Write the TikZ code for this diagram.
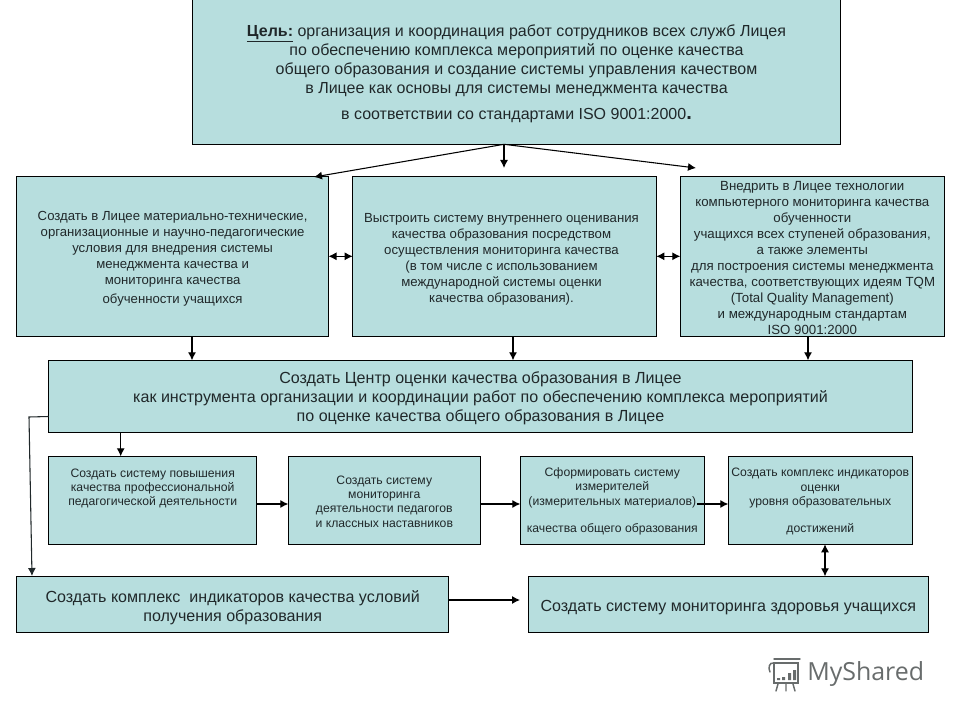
\documentclass[tikz,border=0pt]{standalone}
\usepackage{fontspec}
\setmainfont{Liberation Sans}
\newfontfamily\logofont{Open Sans}
\usetikzlibrary{arrows.meta}
\definecolor{boxfill}{RGB}{183,222,222}
\definecolor{inkc}{RGB}{32,40,42}
\definecolor{logoc}{RGB}{104,108,108}
\newcommand{\padb}[1]{\rule[-#1]{0pt}{#1}}
\newcommand{\padt}[1]{\rule{0pt}{#1}}
\tikzset{
  box/.style={draw=black,line width=.9pt,fill=boxfill,text=inkc,inner sep=0pt,outer sep=0pt,align=center},
  sz/.style 2 args={minimum width=#1*.75pt,minimum height=#2*.75pt},
  txt/.style 2 args={font=\fontsize{#1}{#2}\selectfont},
  arr/.style={line width=.8pt,-{Latex[length=6pt,width=6pt]}},
  biarr/.style={line width=.8pt,{Latex[length=6pt,width=6pt]}-{Latex[length=6pt,width=6pt]}},
  logoline/.style={draw=logoc,line width=1.1pt,line cap=round}
}
\begin{document}
\begin{tikzpicture}[x=.75pt,y=-.75pt]
\useasboundingbox (0,0) rectangle (960,720);
\node[box,sz={647.6}{144.6},txt={12}{14.3}] (top) at (516.5,72) {\padt{11pt}\textbf{\underline{Цель:}} организация и координация работ сотрудников всех служб Лицея\\
по обеспечению комплекса мероприятий по оценке качества\\
общего образования и создание системы управления качеством\\
в Лицее как основы для системы менеджмента качества\\[5pt]
в соответствии со стандартами ISO 9001:2000{\fontsize{15}{14}\selectfont\textbf{.}}};
\node[box,sz={311.8}{160},txt={9.87}{12}] (a) at (172.6,256.3) {\padt{10.2pt}Создать в Лицее материально-технические,\\
организационные и научно-педагогические\\
условия для внедрения системы\\
менеджмента качества и\\
мониторинга качества\\[2pt]
обученности учащихся};
\node[box,sz={303.6}{160},txt={9.9}{12}] (b) at (504.5,256.3) {\begin{tabular}{@{}c@{}}\padt{12.2pt}Выстроить систему внутреннего оценивания\\
качества образования посредством\\
осуществления мониторинга качества\\
(в том числе с использованием\\
международной системы оценки\\
качества образования).\end{tabular}\hspace{4.5pt}};
\node[box,sz={264}{160},txt={9.95}{12}] (c) at (812.3,256.3) {\padt{8.8pt}Внедрить в Лицее технологии\\
компьютерного мониторинга качества\\
обученности\\
учащихся всех ступеней образования,\\
а также элементы\\
для построения системы менеджмента\\
качества, соответствующих идеям TQM\\
(Total Quality Management)\\
и международным стандартам\\
ISO 9001:2000};
\node[box,sz={863.6}{72},txt={12.05}{14.3}] (d) at (480.5,396.3) {\padt{11.8pt}Создать Центр оценки качества образования в Лицее\\
как инструмента организации и координации работ по обеспечению комплекса мероприятий\\
по оценке качества общего образования в Лицее};
\node[box,sz={208}{88},txt={9.15}{10.8}] (e) at (152.7,500.3) {Создать систему повышения\\
качества профессиональной\\
педагогической деятельности\padb{19.5pt}};
\node[box,sz={192}{88},txt={9.15}{10.8}] (f) at (384.3,500.3) {\padt{8.2pt}Создать систему\\
мониторинга\\
деятельности педагогов\\
и классных наставников};
\node[box,sz={184}{88},txt={9.15}{10.8}] (g) at (612.3,500.3) {\padt{8.2pt}Сформировать систему\\
измерителей\\
(измерительных материалов)\\[9.5pt]
качества общего образования};
\node[box,sz={184}{88},txt={9.15}{10.8}] (h) at (820.3,500.3) {\padt{8.2pt}Создать комплекс индикаторов\\
оценки\\
уровня образовательных\\[9.5pt]
достижений};
\node[box,sz={432}{56},txt={12.05}{14.3}] (i) at (232.7,604.3) {\padt{14pt}Создать комплекс\ \ индикаторов качества условий\\
получения образования};
\node[box,sz={400}{56},txt={12.05}{14.3}] (j) at (728.3,604.3) {\padt{13.3pt}Создать систему мониторинга здоровья учащихся};
\coordinate (hub) at (504,144.3);
\coordinate (ta) at (314,177);
\coordinate (tb) at (504,168);
\coordinate (tc) at (696,168);
\coordinate (x1) at (192,0);
\coordinate (x2) at (513,0);
\coordinate (x3) at (808,0);
\coordinate (x4) at (120.7,0);
\coordinate (x5) at (825,0);
\coordinate (y1) at (0,504);
\coordinate (gs) at (697,504);
\coordinate (y2) at (0,600);
\coordinate (js) at (520,600);
\coordinate (ds) at (48.7,416.5);
\coordinate (bend) at (29,417);
\coordinate (ie) at (32,576);
\draw[arr] (hub) -- (ta);
\draw[arr] (hub) -- (tb);
\draw[arr] (hub) -- (tc);
\draw[biarr] (a.east) -- (b.west);
\draw[biarr] (b.east) -- (c.west);
\draw[arr] (a.south -| x1) -- (d.north -| x1);
\draw[arr] (b.south -| x2) -- (d.north -| x2);
\draw[arr] (c.south -| x3) -- (d.north -| x3);
\draw[arr] (d.south -| x4) -- (e.north -| x4);
\draw[arr] (e.east |- y1) -- (f.west |- y1);
\draw[arr] (f.east |- y1) -- (g.west |- y1);
\draw[arr] (gs) -- (h.west |- y1);
\draw[arr] (i.east |- y2) -- (js);
\draw[biarr] (h.south -| x5) -- (j.north -| x5);
\draw[arr,draw=inkc] (ds) -- (bend) -- (ie);
% watermark
\draw[logoline] (774,663) -- (798,663) -- (798,683) -- (774,683) -- cycle;
\draw[logoline] (774,663) .. controls (769,662) and (768,668) .. (770,672);
\draw[logoline] (774,659) -- (800,659);
\fill[logoc] (782,677) rectangle (785,680) (788,673) rectangle (791,680) (793,670) rectangle (796,680) (777,678) rectangle (780,680);
\draw[logoline] (778,684) -- (776,691) (786,684) -- (786,691) (793,684) -- (795,691);
\node[inner sep=0pt,text=logoc,font=\logofont\fontsize{18.7}{20}\selectfont,anchor=west] (logo) at (807,674) {MyShared};
\end{tikzpicture}
\end{document}
